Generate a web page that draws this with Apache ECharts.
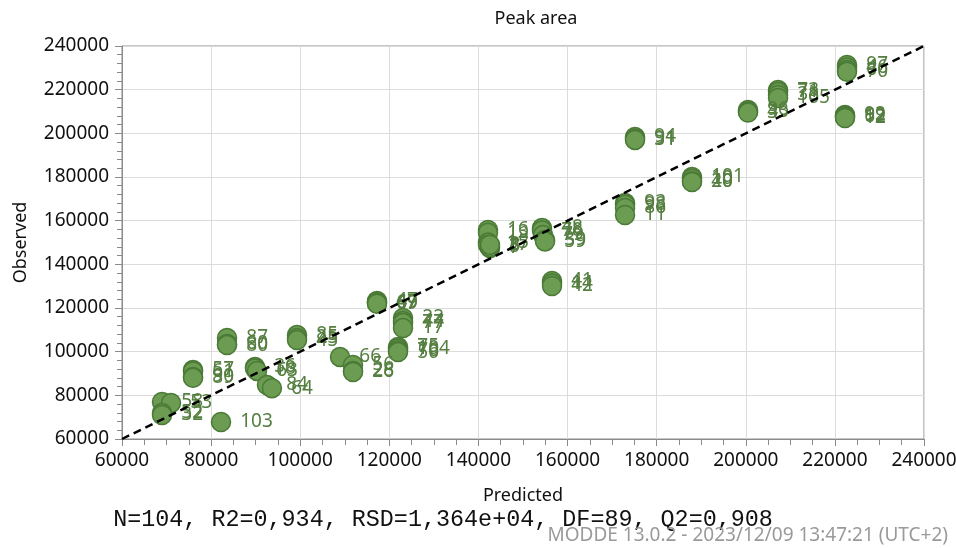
<!DOCTYPE html>
<html>
<head>
<meta charset="utf-8">
<script src="https://cdn.jsdelivr.net/npm/echarts@6/dist/echarts.min.js"></script>
<style>
  html, body { margin: 0; padding: 0; background: #ffffff; }
  #chart { width: 956px; height: 548px; }
</style>
</head>
<body>
<div id="chart"></div>
<script>
// Run numbers shown next to each observation
const runs = [
  '58', '53', '52', '32',
  '103',
  '57', '61', '90', '89',
  '87', '60', '80',
  '36', '18', '63',
  '84', '64',
  '85', '25', '45',
  '66', '56', '28', '26',
  '47', '67', '49', '69',
  '22', '44', '77', '17',
  '75', '104', '76', '50',
  '16', '13', '15', '27', '7', '5', '8',
  '48', '78', '79', '39', '59',
  '41', '14', '42',
  '94', '91', '31',
  '101', '10', '40', '20',
  '93', '98', '86', '11',
  '96', '43', '3',
  '73', '71', '38', '105',
  '97', '46', '6', '70',
  '92', '99', '62', '12'
];

// Predicted peak area per run
const predicted = [
  68980, 71000, 68980, 68980,
  82220,
  75940, 75940, 75940, 75940,
  83570, 83570, 83570,
  89850, 89850, 90300,
  92540, 93650,
  99280, 99280, 99280,
  108930, 111850, 111850, 111850,
  117230, 117230, 117230, 117230,
  123070, 123070, 123070, 123070,
  121950, 121950, 121950, 121950,
  142140, 142140, 142140, 142140, 142590, 142590, 142590,
  154260, 154260, 154490, 154940, 154940,
  156510, 156510, 156510,
  175140, 175140, 175140,
  187930, 187930, 187930, 187930,
  172900, 172900, 172900, 172900,
  200500, 200500, 200500,
  207240, 207240, 207240, 207240,
  222720, 222720, 222720, 222720,
  222270, 222270, 222270, 222270
];

// Observed peak area per run
const observed = [
  76950, 76500, 71900, 71000,
  67800,
  91600, 90900, 88400, 88000,
  106300, 103500, 103000,
  93000, 92300, 91200,
  84700, 83300,
  107600, 106300, 105300,
  97600, 93900, 91200, 90700,
  123200, 122700, 122400, 122000,
  115400, 114000, 113100, 110800,
  102100, 101500, 100500, 99800,
  155700, 154500, 150000, 149000, 147500, 148000, 149000,
  156600, 155500, 153400, 151200, 150500,
  132400, 131200, 130100,
  198300, 197500, 197000,
  180000, 179200, 178000, 177700,
  168100, 167300, 165800, 162600,
  210700, 210000, 209500,
  219800, 218900, 217600, 216200,
  231300, 230200, 229000, 228200,
  208400, 208000, 207500, 207000
];

// Axis range and tick spacing (same for both axes)
const axisMin = 60000;
const axisMax = 240000;
const axisStep = 20000;

const statsText = 'N=104, R2=0,934, RSD=1,364e+04, DF=89, Q2=0,908';
const footerText = 'MODDE 13.0.2 - 2023/12/09 13:47:21 (UTC+2)';

const uiFont = '"Noto Sans", "Open Sans", sans-serif';

const points = predicted.map((p, i) => ({ name: runs[i], value: [p, observed[i]] }));

const axisCommon = {
  type: 'value',
  min: axisMin,
  max: axisMax,
  interval: axisStep,
  nameLocation: 'middle',
  nameTextStyle: { fontFamily: uiFont, fontSize: 18, color: '#111' },
  axisLine: { show: true, onZero: false, lineStyle: { color: '#8a8a8a', width: 1 } },
  axisTick: { show: true, length: 7, lineStyle: { color: '#8a8a8a' } },
  axisLabel: { fontFamily: uiFont, fontSize: 19, color: '#111', formatter: v => String(v) },
  splitLine: { show: true, lineStyle: { color: '#dcdcdc', width: 1 } }
};

const chart = echarts.init(document.getElementById('chart'), null, { renderer: 'canvas' });

chart.setOption({
  backgroundColor: '#ffffff',
  animation: false,
  title: {
    text: 'Peak area',
    left: 531,
    top: 5,
    textAlign: 'center',
    textStyle: { fontFamily: uiFont, fontSize: 18, fontWeight: 'normal', color: '#111' }
  },
  grid: {
    left: 122, right: 32, top: 46, bottom: 109,
    containLabel: false,
    outerBoundsMode: 'none',
    show: true, borderColor: '#8a8a8a', borderWidth: 1, backgroundColor: 'transparent'
  },
  xAxis: Object.assign({}, axisCommon, {
    name: 'Predicted',
    nameGap: 48,
    minorTick: { show: true, splitNumber: 4, length: 6, lineStyle: { color: '#8a8a8a' } },
    axisLabel: Object.assign({}, axisCommon.axisLabel, { margin: 12 })
  }),
  yAxis: Object.assign({}, axisCommon, {
    name: 'Observed',
    nameGap: 92,
    minorTick: { show: true, splitNumber: 5, length: 5, lineStyle: { color: '#8a8a8a' } },
    axisLabel: Object.assign({}, axisCommon.axisLabel, { margin: 13 })
  }),
  series: [
    {
      type: 'scatter',
      data: points,
      symbol: 'circle',
      symbolSize: 19,
      itemStyle: { color: '#6b9c52', borderColor: '#4a7a36', borderWidth: 1.5, opacity: 1 },
      label: {
        show: true,
        position: 'right',
        distance: 9,
        formatter: '{b}',
        fontFamily: uiFont,
        fontSize: 19,
        color: '#557f40'
      },
      z: 2
    },
    {
      // y = x reference line
      type: 'line',
      data: [[axisMin, axisMin], [axisMax, axisMax]],
      symbol: 'none',
      lineStyle: { color: '#000', width: 2.5, type: [8, 5] },
      z: 5,
      silent: true
    }
  ],
  graphic: [
    {
      type: 'text',
      x: 443, y: 520,
      style: {
        text: statsText,
        fontFamily: '"Liberation Mono", "DejaVu Sans Mono", monospace',
        fontSize: 23.4,
        fill: '#111',
        align: 'center',
        verticalAlign: 'middle'
      }
    },
    {
      type: 'text',
      x: 948, y: 536,
      style: {
        text: footerText,
        fontFamily: uiFont,
        fontSize: 19,
        fill: '#9a9a9a',
        align: 'right',
        verticalAlign: 'middle'
      }
    }
  ]
});
</script>
</body>
</html>
